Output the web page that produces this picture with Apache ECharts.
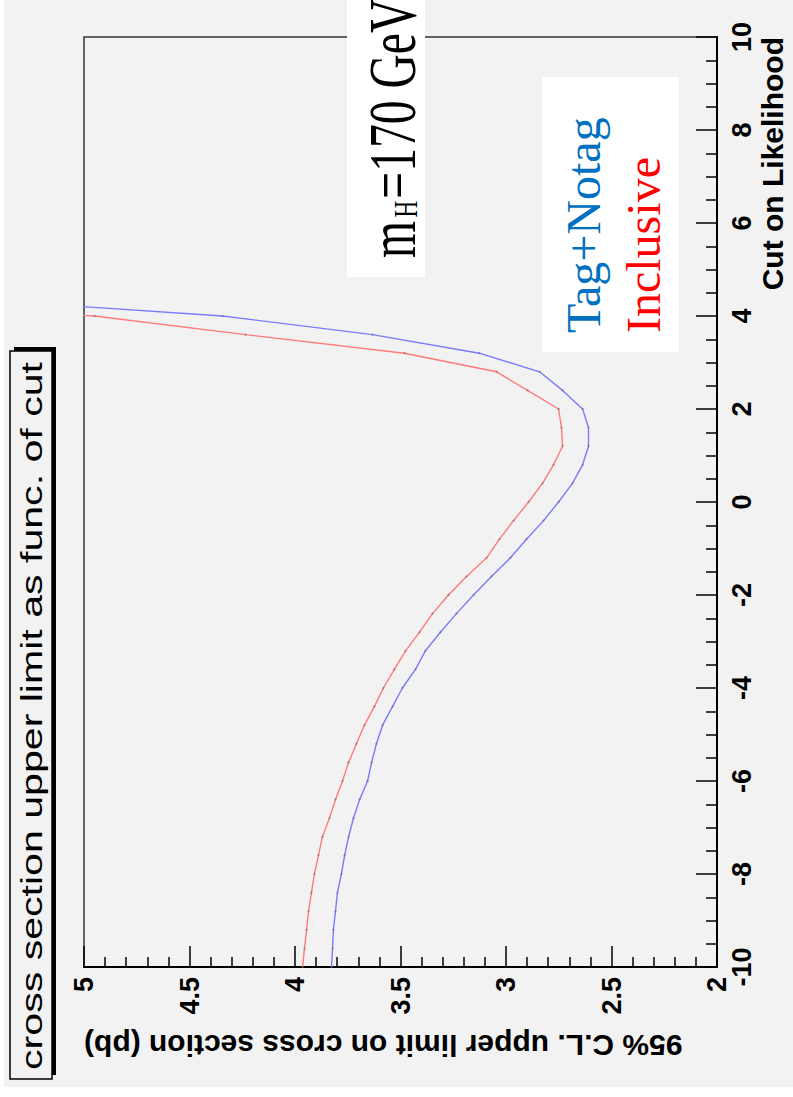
<!DOCTYPE html>
<html><head><meta charset="utf-8">
<script src="https://cdn.jsdelivr.net/npm/echarts@6.0.0/dist/echarts.min.js"></script>
<style>html,body{margin:0;padding:0;background:#fff;}#c{width:793px;height:1097px;}</style>
</head><body><div id="c"></div>
<script>
// Cut on likelihood (x of the original plot, drawn vertically here)
const cutValues = [-10, -9.6, -9.2, -8.8, -8.4, -8.0, -7.6, -7.2, -6.8, -6.4, -6.0, -5.6, -5.2, -4.8, -4.4, -4.0,
  -3.6, -3.2, -2.8, -2.4, -2.0, -1.6, -1.2, -0.8, -0.4, 0.0, 0.4, 0.8, 1.2, 1.6, 2.0, 2.4, 2.8, 3.2, 3.6, 4.0, 4.4];
// 95% C.L. upper limit on cross section (pb)
const tagNotag = [3.827, 3.822, 3.818, 3.808, 3.799, 3.780, 3.765, 3.746, 3.723, 3.694, 3.656, 3.637, 3.614, 3.585, 3.538, 3.491,
  3.429, 3.382, 3.311, 3.235, 3.154, 3.069, 2.979, 2.903, 2.822, 2.751, 2.685, 2.637, 2.609, 2.609, 2.637, 2.732, 2.841, 3.126, 3.633, 4.344, 5.66];
const inclusive = [3.964, 3.955, 3.945, 3.936, 3.922, 3.908, 3.889, 3.870, 3.837, 3.808, 3.775, 3.746, 3.709, 3.671, 3.624, 3.581,
  3.529, 3.476, 3.410, 3.348, 3.273, 3.187, 3.092, 3.031, 2.964, 2.893, 2.827, 2.775, 2.732, 2.737, 2.751, 2.898, 3.045, 3.481, 4.235, 4.95, 6.5];

const seriesNames = ['Tag+Notag', 'Inclusive'];
const lineColors = ['#7a7aff', '#ff7a7a'];
const legendColors = ['#0070C0', '#FF0000'];
const titleText = 'cross section upper limit as func. of cut';
const xTitle = '95% C.L. upper limit on cross section (pb)';
const yTitle = 'Cut on Likelihood';

const SANS = "'Liberation Sans', Arial, Helvetica, sans-serif";
const SERIF = "'Liberation Serif', 'Times New Roman', serif";

const chart = echarts.init(document.getElementById('c'), null, {renderer: 'svg'});

function mkSeries(name, vals, color) {
  return {
    name: name, type: 'line', animation: false, clip: true,
    data: cutValues.map((c, i) => [vals[i], c]),
    symbol: 'circle', symbolSize: 2, showSymbol: true,
    itemStyle: {color: '#666', opacity: 0.6},
    lineStyle: {color: color, width: 1.4},
    emphasis: {disabled: true}
  };
}

const R = Math.PI / 2;
chart.setOption({
  backgroundColor: '#f2f2f2',
  animation: false,
  grid: {left: 84, right: 76, top: 37, bottom: 130, show: true, borderColor: '#333', borderWidth: 1.5, backgroundColor: 'transparent'},
  xAxis: {
    type: 'value', min: 2, max: 5, interval: 0.5, inverse: true, position: 'bottom',
    axisLine: {show: true, onZero: false, lineStyle: {color: '#000', width: 2}},
    axisTick: {show: true, inside: true, length: 21, lineStyle: {color: '#000', width: 1.5}},
    minorTick: {show: true, splitNumber: 5, length: 10, lineStyle: {color: '#000', width: 1.5}},
    splitLine: {show: false},
    axisLabel: {rotate: 90, margin: 10, fontSize: 27, fontWeight: 'bold', fontFamily: SANS, color: '#000', showMinLabel: true, showMaxLabel: true}
  },
  yAxis: {
    type: 'value', min: -10, max: 10, interval: 2, position: 'right',
    axisLine: {show: true, onZero: false, lineStyle: {color: '#000', width: 2}},
    axisTick: {show: true, inside: true, length: 21, lineStyle: {color: '#000', width: 1.5}},
    minorTick: {show: true, splitNumber: 4, length: 11, lineStyle: {color: '#000', width: 1.5}},
    splitLine: {show: false},
    axisLabel: {rotate: 90, margin: 11, fontSize: 27, fontWeight: 'bold', fontFamily: SANS, color: '#000', showMinLabel: true, showMaxLabel: true}
  },
  series: [mkSeries(seriesNames[0], tagNotag, lineColors[0]), mkSeries(seriesNames[1], inclusive, lineColors[1])],
  graphic: [
    // white page margins
    {type: 'rect', z: 50, shape: {x: 0, y: 0, width: 4, height: 1097}, style: {fill: '#fff'}},
    {type: 'rect', z: 50, shape: {x: 0, y: 1087, width: 793, height: 10}, style: {fill: '#fff'}},
    // title pave
    {type: 'rect', z: 60, shape: {x: 14, y: 347, width: 42, height: 728}, style: {fill: '#000'}},
    {type: 'rect', z: 61, shape: {x: 10, y: 351, width: 42, height: 728}, style: {fill: '#f2f2f2', stroke: '#000', lineWidth: 1.5}},
    {type: 'text', z: 62, x: 32, y: 716, rotation: R, scaleX: 1.37,
      style: {text: titleText, fontSize: 30, fontFamily: SANS, fill: '#000', align: 'center', verticalAlign: 'middle', textAlign: 'center', textVerticalAlign: 'middle'}},
    // axis titles
    {type: 'text', z: 62, x: 772, y: 37, rotation: R,
      style: {text: yTitle, fontSize: 30, fontWeight: 'bold', fontFamily: SANS, fill: '#000', align: 'right', verticalAlign: 'middle', textAlign: 'right', textVerticalAlign: 'middle'}},
    {type: 'text', z: 62, x: 84, y: 1045, rotation: Math.PI,
      style: {text: xTitle, fontSize: 30, fontWeight: 'bold', fontFamily: SANS, fill: '#000', align: 'right', verticalAlign: 'middle', textAlign: 'right', textVerticalAlign: 'middle'}},
    // m_H annotation
    {type: 'rect', z: 100, shape: {x: 347, y: 0, width: 78, height: 277}, style: {fill: '#fff'}},
    {type: 'text', z: 101, x: 392, y: 258, rotation: R, scaleX: 0.70,
      style: {text: '{m|m}{s|H}{m|=170 GeV}', fill: '#000', align: 'left', verticalAlign: 'middle', textAlign: 'left', textVerticalAlign: 'middle',
        rich: {m: {fontSize: 68, fontFamily: SERIF, fill: '#000', verticalAlign: 'bottom'},
               s: {fontSize: 33, fontFamily: SERIF, fill: '#000', verticalAlign: 'bottom', padding: [0, 3, 4, 5]}}}},
    // legend
    {type: 'rect', z: 100, shape: {x: 542, y: 77, width: 137, height: 275}, style: {fill: '#fff'}},
    {type: 'text', z: 101, x: 583, y: 333, rotation: R,
      style: {text: seriesNames[0], fontSize: 48, fontFamily: SERIF, fill: legendColors[0], align: 'left', verticalAlign: 'middle', textAlign: 'left', textVerticalAlign: 'middle'}},
    {type: 'text', z: 101, x: 643, y: 333, rotation: R,
      style: {text: seriesNames[1], fontSize: 48, fontFamily: SERIF, fill: legendColors[1], align: 'left', verticalAlign: 'middle', textAlign: 'left', textVerticalAlign: 'middle'}}
  ]
});
</script></body></html>
